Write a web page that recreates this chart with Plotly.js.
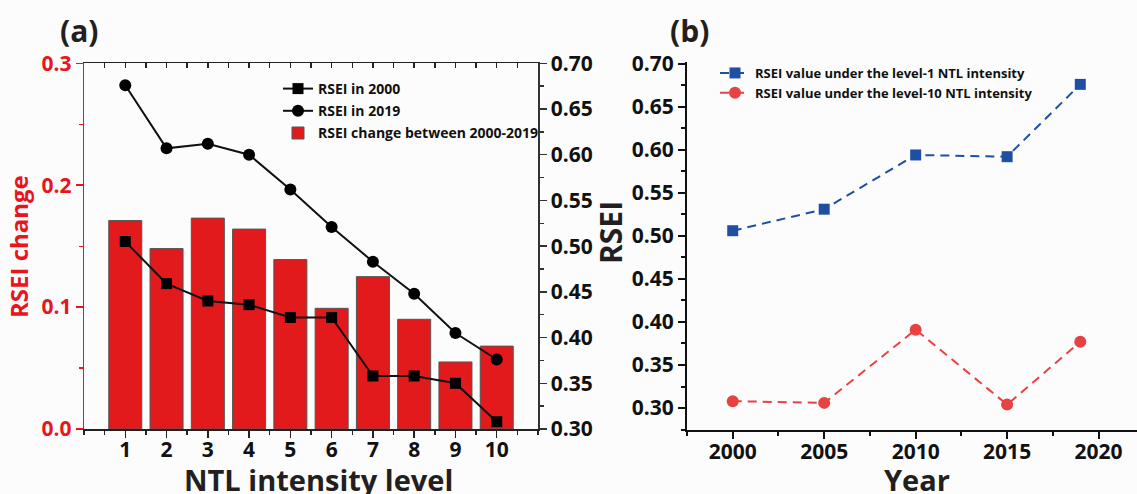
<!DOCTYPE html>
<html>
<head>
<meta charset="utf-8">
<script src="https://cdn.plot.ly/plotly-3.0.1.min.js"></script>
<style>html,body{margin:0;padding:0;background:#fcfcfc;}#chart{width:1137px;height:494px;}</style>
</head>
<body>
<div id="chart"></div>
<script>
// Panel (a) data
const levels = [1, 2, 3, 4, 5, 6, 7, 8, 9, 10];
const levelTicks = ['1', '2', '3', '4', '5', '6', '7', '8', '9', '10'];
const rsei2000 = [0.505, 0.459, 0.440, 0.436, 0.422, 0.422, 0.358, 0.358, 0.350, 0.308];
const rsei2019 = [0.676, 0.607, 0.612, 0.600, 0.562, 0.521, 0.483, 0.448, 0.405, 0.376];
const rseiChange = [0.171, 0.148, 0.173, 0.164, 0.139, 0.099, 0.125, 0.090, 0.055, 0.068];

// Panel (b) data
const years = [2000, 2005, 2010, 2015, 2019];
const level1Rsei = [0.506, 0.531, 0.594, 0.592, 0.676];
const level10Rsei = [0.308, 0.306, 0.391, 0.304, 0.377];

const FONT = 'Open Sans, Noto Sans, sans-serif';
const RED = '#e8161c';
const BLUE = '#1f4fa3';
const RED2 = '#e84142';

const traces = [
  {
    type: 'bar', x: levels, y: rseiChange, xaxis: 'x', yaxis: 'y',
    name: 'RSEI change between 2000-2019', legend: 'legend', legendrank: 3,
    legendgroup: 'g3',
    marker: {color: '#e31a1c', line: {color: '#555', width: 1}}
  },
  {
    type: 'scatter', mode: 'lines+markers', x: levels, y: rsei2000, xaxis: 'x', yaxis: 'y2',
    name: 'RSEI in 2000', legend: 'legend', legendrank: 1, legendgroup: 'g1',
    line: {color: '#111', width: 2},
    marker: {symbol: 'square', size: 11, color: '#000'}
  },
  {
    type: 'scatter', mode: 'lines+markers', x: levels, y: rsei2019, xaxis: 'x', yaxis: 'y2',
    name: 'RSEI in 2019', legend: 'legend', legendrank: 2, legendgroup: 'g2',
    line: {color: '#111', width: 2},
    marker: {symbol: 'circle', size: 12, color: '#000'}
  },
  {
    type: 'scatter', mode: 'markers', x: [], y: [], xaxis: 'x3', yaxis: 'y',
    showlegend: false, hoverinfo: 'skip'
  },
  {
    type: 'scatter', mode: 'lines+markers', x: years, y: level1Rsei, xaxis: 'x2', yaxis: 'y3',
    name: 'RSEI value under the level-1 NTL intensity', legend: 'legend2', legendgroup: 'b1',
    line: {color: BLUE, width: 2, dash: '9px,6px'},
    marker: {symbol: 'square', size: 11, color: BLUE}
  },
  {
    type: 'scatter', mode: 'lines+markers', x: years, y: level10Rsei, xaxis: 'x2', yaxis: 'y3',
    name: 'RSEI value under the level-10 NTL intensity', legend: 'legend2', legendgroup: 'b2',
    line: {color: RED2, width: 2, dash: '9px,6px'},
    marker: {symbol: 'circle', size: 12, color: RED2}
  }
];

const tickFont = {family: FONT, size: 21, color: '#111', weight: 700};

function label(text, x, y, size, color, angle) {
  return {text: text, xref: 'paper', yref: 'paper', x: x / 1137, y: (494 - y) / 494,
          xanchor: 'center', yanchor: 'middle', showarrow: false, textangle: angle || 0,
          font: {family: FONT, size: size, color: color, weight: 700}};
}

const layout = {
  width: 1137, height: 494,
  margin: {l: 0, r: 0, t: 0, b: 0},
  paper_bgcolor: '#fcfcfc', plot_bgcolor: '#fcfcfc',
  showlegend: true,
  bargap: 0.2,
  font: {family: FONT, weight: 700},
  xaxis: {
    domain: [84 / 1137, 538 / 1137], anchor: 'y', range: [0, 11],
    tickmode: 'array', tickvals: levels, ticktext: levelTicks,
    ticks: 'outside', ticklen: 7, tickwidth: 1.5, tickcolor: '#222', ticklabelstandoff: -6,
    minor: {tickmode: 'linear', tick0: 0, dtick: 0.5, ticks: 'outside', ticklen: 4, tickwidth: 1.5, tickcolor: '#222'},
    showline: true, linecolor: '#222', linewidth: 1.5,
    showgrid: false, zeroline: false, tickfont: tickFont, fixedrange: true
  },
  xaxis3: {
    overlaying: 'x', side: 'top', anchor: 'y', range: [0, 11],
    tickmode: 'linear', tick0: 0, dtick: 0.5, ticks: 'inside', ticklen: 5, tickwidth: 1.5, tickcolor: '#222',
    showticklabels: false, showline: true, linecolor: '#222', linewidth: 1.5,
    showgrid: false, zeroline: false
  },
  yaxis: {
    domain: [65 / 494, (494 - 63.3) / 494], anchor: 'x', range: [0, 0.3],
    tickmode: 'linear', tick0: 0, dtick: 0.1, tickformat: '.1f',
    ticks: 'outside', ticklen: 7, tickwidth: 1.5, tickcolor: RED,
    minor: {dtick: 0.05, ticks: 'outside', ticklen: 4, tickwidth: 1.2, tickcolor: RED},
    showline: true, linecolor: RED, linewidth: 1.2,
    showgrid: false, zeroline: false,
    tickfont: {family: FONT, size: 21, color: RED, weight: 700}
  },
  yaxis2: {
    overlaying: 'y', side: 'right', anchor: 'x', range: [0.30, 0.70],
    tickmode: 'linear', tick0: 0.3, dtick: 0.05, tickformat: '.2f',
    ticks: 'outside', ticklen: 7, tickwidth: 1.5, tickcolor: '#333',
    minor: {dtick: 0.025, ticks: 'outside', ticklen: 4, tickwidth: 1.5, tickcolor: '#333'},
    showline: true, linecolor: '#333', linewidth: 1.5,
    showgrid: false, zeroline: false, tickfont: tickFont
  },
  xaxis2: {
    domain: [687 / 1137, 1], anchor: 'y3', range: [1997.5, 2022.1],
    tickmode: 'linear', tick0: 2000, dtick: 5,
    ticks: 'outside', ticklen: 7, tickwidth: 2, tickcolor: '#111', ticklabelstandoff: -5,
    minor: {dtick: 2.5, ticks: 'outside', ticklen: 4, tickwidth: 2, tickcolor: '#111'},
    showline: true, linecolor: '#111', linewidth: 2,
    showgrid: false, zeroline: false, tickfont: tickFont
  },
  yaxis3: {
    domain: [64 / 494, (494 - 62) / 494], anchor: 'x2', range: [0.2745, 0.702],
    tickmode: 'linear', tick0: 0.3, dtick: 0.05, tickformat: '.2f',
    ticks: 'outside', ticklen: 7, tickwidth: 2, tickcolor: '#111',
    minor: {dtick: 0.025, ticks: 'outside', ticklen: 4, tickwidth: 2, tickcolor: '#111'},
    showline: true, linecolor: '#111', linewidth: 2,
    showgrid: false, zeroline: false, tickfont: tickFont
  },
  legend: {
    x: 278 / 1137, y: (494 - 73) / 494, xanchor: 'left', yanchor: 'top',
    bgcolor: 'rgba(0,0,0,0)', borderwidth: 0, traceorder: 'grouped', tracegroupgap: 1,
    font: {family: FONT, size: 14, color: '#111', weight: 700}
  },
  legend2: {
    x: 715 / 1137, y: (494 - 58) / 494, xanchor: 'left', yanchor: 'top',
    bgcolor: 'rgba(0,0,0,0)', borderwidth: 0, traceorder: 'grouped', tracegroupgap: 0,
    font: {family: FONT, size: 13, color: '#111', weight: 700}
  },
  annotations: [
    label('(a)', 79, 31, 30, '#231f20'),
    label('(b)', 689, 31, 30, '#231f20'),
    label('RSEI change', 18, 247, 24, RED, -90),
    label('NTL intensity level', 318, 479, 29, '#231f20'),
    label('Year', 917, 479, 29, '#231f20'),
    label('RSEI', 611, 233, 30, '#231f20', -90)
  ]
};

Plotly.newPlot('chart', traces, layout, {staticPlot: true, displayModeBar: false});
</script>
</body>
</html>
